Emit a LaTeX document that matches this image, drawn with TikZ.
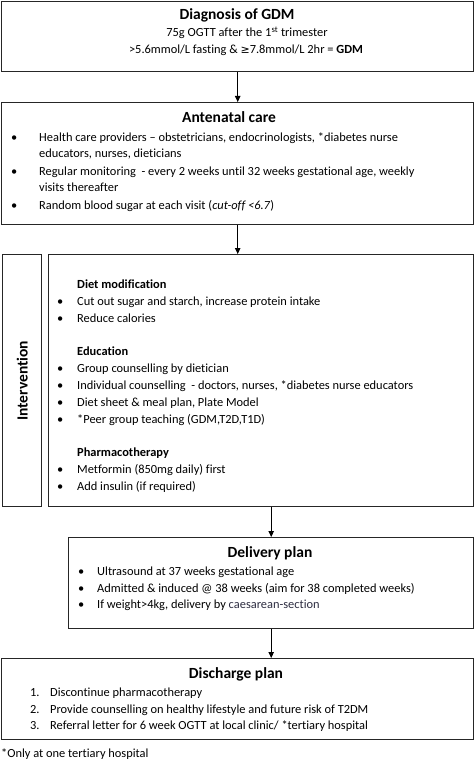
\documentclass[tikz,border=0pt]{standalone}
\usepackage{fontspec}
\setmainfont{Carlito}[Ligatures=NoCommon]
\newfontfamily\symfont{DejaVu Sans}
\usetikzlibrary{arrows.meta}
\definecolor{csec}{RGB}{45,45,65}
\begin{document}
\begin{tikzpicture}[x=1pt,y=-1pt,
  box/.style={draw=black!85,line width=1.4pt,inner sep=0pt,anchor=north west},
  txt/.style={anchor=base west,inner sep=0pt,font=\fontsize{12.4}{14}\selectfont},
  ctxt/.style={anchor=base,inner sep=0pt,font=\fontsize{12.4}{14}\selectfont},
  ttl/.style={anchor=base,inner sep=0pt,font=\fontsize{15.5}{17}\selectfont\bfseries},
  arr/.style={line width=0.9pt,-{Triangle[length=6pt,width=5.5pt]}}]
\useasboundingbox (0,0) rectangle (474,767);
% boxes
\node[box,minimum width=472pt,minimum height=70pt] (diag) at (1,1) {};
\node[box,minimum width=472pt,minimum height=122pt] (ante) at (1,102) {};
\node[box,minimum width=39pt,minimum height=252pt] (ilab) at (2,254) {};
\node[box,minimum width=425pt,minimum height=252pt] (interv) at (48,254) {};
\node[box,minimum width=405pt,minimum height=91pt] (deliv) at (68,537) {};
\node[box,minimum width=472pt,minimum height=81pt] (disch) at (1,658) {};
% arrows
\draw[arr] (diag.south) -- (ante.north);
\draw[arr] (ante.south) -- (ante.south |- interv.north);
\draw[arr] (deliv.north |- interv.south) -- (deliv.north);
\draw[arr] (deliv.south) -- (deliv.south |- disch.north);
% diagnosis
\node[ttl] (t1) at (237,20) {Diagnosis of GDM};
\node[ctxt] (d1) at (247,37) {75g OGTT after the 1\textsuperscript{st} trimester};
\node[ctxt] (d2) at (246,54) {>5.6mmol/L fasting \& {\symfont\fontsize{11}{13}\selectfont ≥}7.8mmol/L 2hr = \textbf{GDM}};
% antenatal
\node[ttl] (t2) at (229,123) {Antenatal care};
\foreach \y in {142,176,209} \node[txt] at (11,\y) {•};
\node[txt] (a1) at (39,142) {Health care providers – obstetricians, endocrinologists, *diabetes nurse};
\node[txt] (a2) at (39,158) {educators, nurses, dieticians};
\node[txt] (a3) at (39,176) {Regular monitoring\ \ - every 2 weeks until 32 weeks gestational age, weekly};
\node[txt] (a4) at (39,192) {visits thereafter};
\node[txt] (a5) at (39,209) {Random blood sugar at each visit (\textit{cut-off <6.7})};
% intervention label
\node[anchor=center,inner sep=0pt,rotate=90,font=\fontsize{15.5}{17}\selectfont\bfseries] (il) at (ilab.center) {Intervention};
% intervention
\node[txt,font=\fontsize{12.4}{14}\selectfont\bfseries] (h1) at (77,288) {Diet modification};
\foreach \y in {305,322,372,389,406,423,473,490} \node[txt] at (57,\y) {•};
\node[txt] (i1) at (77,305) {Cut out sugar and starch, increase protein intake};
\node[txt] (i2) at (77,322) {Reduce calories};
\node[txt,font=\fontsize{12.4}{14}\selectfont\bfseries] (h2) at (77,355) {Education};
\node[txt] (i3) at (77,372) {Group counselling by dietician};
\node[txt] (i4) at (77,389) {Individual counselling\ \ - doctors, nurses, *diabetes nurse educators};
\node[txt] (i5) at (77,406) {Diet sheet \& meal plan, Plate Model};
\node[txt] (i6) at (77,423) {*Peer group teaching (GDM,T2D,T1D)};
\node[txt,font=\fontsize{12.4}{14}\selectfont\bfseries] (h3) at (77,456) {Pharmacotherapy};
\node[txt] (i7) at (77,473) {Metformin (850mg daily) first};
\node[txt] (i8) at (77,490) {Add insulin (if required)};
% delivery
\node[ttl] (t3) at (270,557) {Delivery plan};
\foreach \y in {575,592,608} \node[txt] at (78,\y) {•};
\node[txt] (p1) at (97,575) {Ultrasound at 37 weeks gestational age};
\node[txt] (p2) at (97,592) {Admitted \& induced @ 38 weeks (aim for 38 completed weeks)};
\node[txt] (p3) at (97,608) {If weight>4kg, delivery by \textcolor{csec}{caesarean-section}};
% discharge
\node[ttl] (t4) at (236,678) {Discharge plan};
\node[txt] (n1) at (30,696) {1.};
\node[txt] (n2) at (30,713) {2.};
\node[txt] (n3) at (30,729) {3.};
\node[txt] (q1) at (50,696) {Discontinue pharmacotherapy};
\node[txt] (q2) at (50,713) {Provide counselling on healthy lifestyle and future risk of T2DM};
\node[txt] (q3) at (50,729) {Referral letter for 6 week OGTT at local clinic/ *tertiary hospital};
% footnote
\node[txt] (fn) at (1,757) {*Only at one tertiary hospital};
\end{tikzpicture}
\end{document}
